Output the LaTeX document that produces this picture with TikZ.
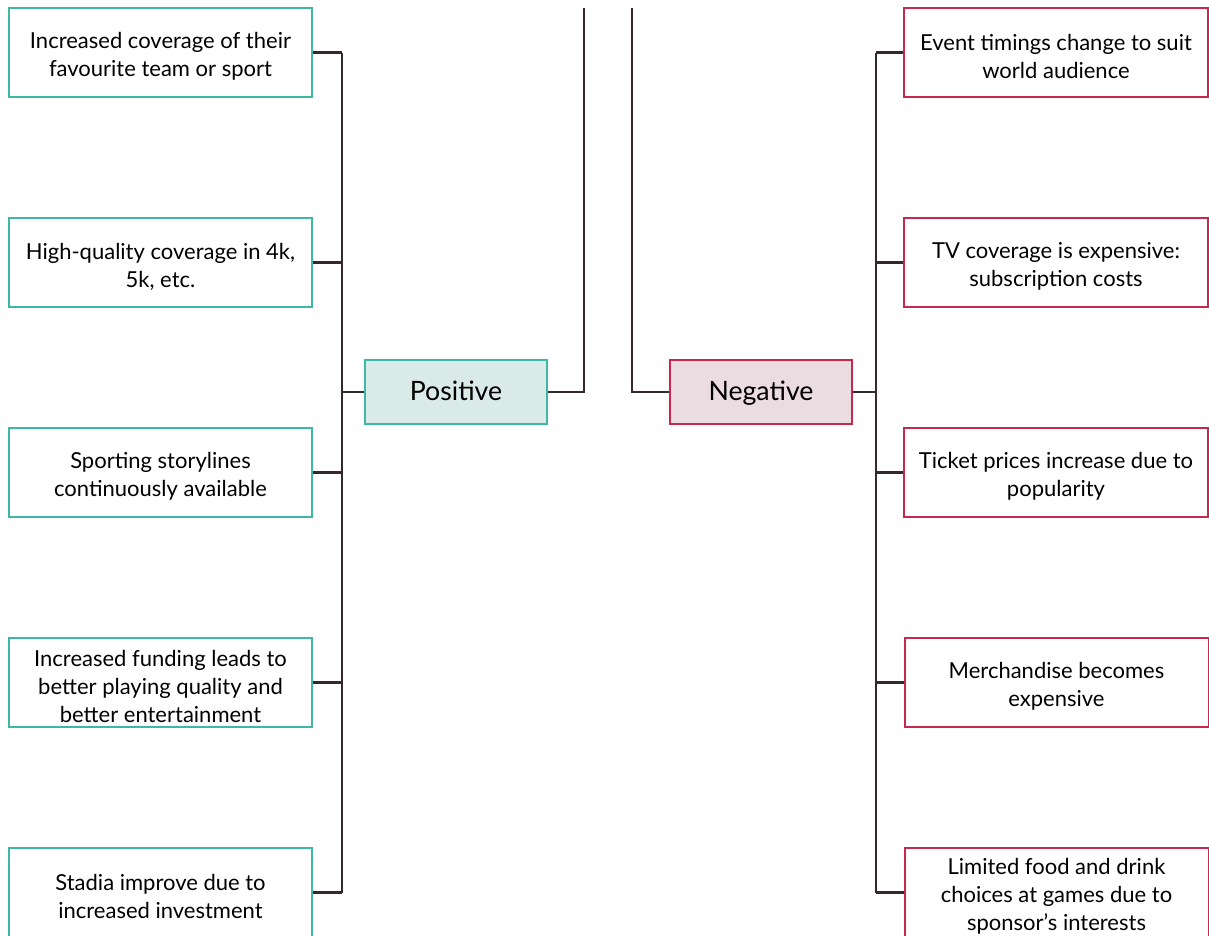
\documentclass[tikz,border=0pt]{standalone}
\usepackage{fontspec}
\setmainfont{Lato}
\definecolor{teal1}{HTML}{3DB8A5}
\definecolor{tealfill}{HTML}{DAEAE6}
\definecolor{red1}{HTML}{C7284E}
\definecolor{redfill}{HTML}{EADCE0}
\definecolor{linec}{HTML}{35272E}
\newcommand\topgap{\rule{0pt}{18pt}}
\begin{document}
\begin{tikzpicture}[x=0.75pt,y=-0.75pt,
  box/.style={line width=1.5pt,fill=white,minimum height=66.75pt,inner sep=0pt,align=center,font=\fontsize{16.5}{21}\selectfont},
  posbox/.style={box,draw=teal1,minimum width=227.25pt},
  negbox/.style={box,draw=red1,minimum width=228pt},
  head/.style={line width=1.5pt,minimum width=136.5pt,minimum height=48pt,inner sep=0pt,text height=14pt,text depth=1pt,font=\fontsize{20}{24}\selectfont},
  poshead/.style={head,draw=teal1,fill=tealfill},
  neghead/.style={head,draw=red1,fill=redfill},
  conn/.style={draw=linec,line width=1.6pt}]
\useasboundingbox (0,0) rectangle (1209,935);
% left boxes
\node[posbox] (l1) at (160.5,52.5) {\topgap Increased coverage of their\\favourite team or sport};
\node[posbox] (l2) at (160.5,262.5) {\topgap High-quality coverage in 4k,\\5k, etc.};
\node[posbox] (l3) at (160.5,472.5) {\topgap Sporting storylines\\continuously available};
\node[posbox] (l4) at (160.5,682.5) {\topgap Increased funding leads to\\better playing quality and\\better entertainment};
\node[posbox] (l5) at (160.5,892.5) {\topgap Stadia improve due to\\increased investment};
% right boxes
\node[negbox] (r1) at (1056,52.5) {\topgap Event timings change to suit\\world audience};
\node[negbox] (r2) at (1056,262.5) {\topgap TV coverage is expensive:\\subscription costs};
\node[negbox] (r3) at (1056,472.5) {\topgap Ticket prices increase due to\\popularity};
\node[negbox] (r4) at (1056.5,682.5) {\topgap Merchandise becomes\\expensive};
\node[negbox] (r5) at (1056.5,892.5) {\topgap Limited food and drink\\choices at games due to\\sponsor's interests};
% heads
\node[poshead] (pos) at (456,392) {Positive};
\node[neghead] (neg) at (761,392) {Negative};
% trunks
\coordinate (lt) at (342,52.5);
\coordinate (lb) at (342,892.5);
\coordinate (rt) at (876,52.5);
\coordinate (rb) at (876,892.5);
\coordinate (ptop) at (584,8);
\coordinate (ntop) at (632,8);
\draw[conn] (lt) -- (lb);
\draw[conn] (rt) -- (rb);
\foreach \n in {l1,l2,l3,l4,l5} \draw[conn] (\n.east) -- (\n.east -| lt);
\foreach \n in {r1,r2,r3,r4,r5} \draw[conn] (\n.west) -- (\n.west -| rt);
\draw[conn] (pos.west) -- (pos.west -| lt);
\draw[conn] (neg.east) -- (neg.east -| rt);
\draw[conn] (pos.east) -| (ptop);
\draw[conn] (neg.west) -| (ntop);
\end{tikzpicture}
\end{document}
